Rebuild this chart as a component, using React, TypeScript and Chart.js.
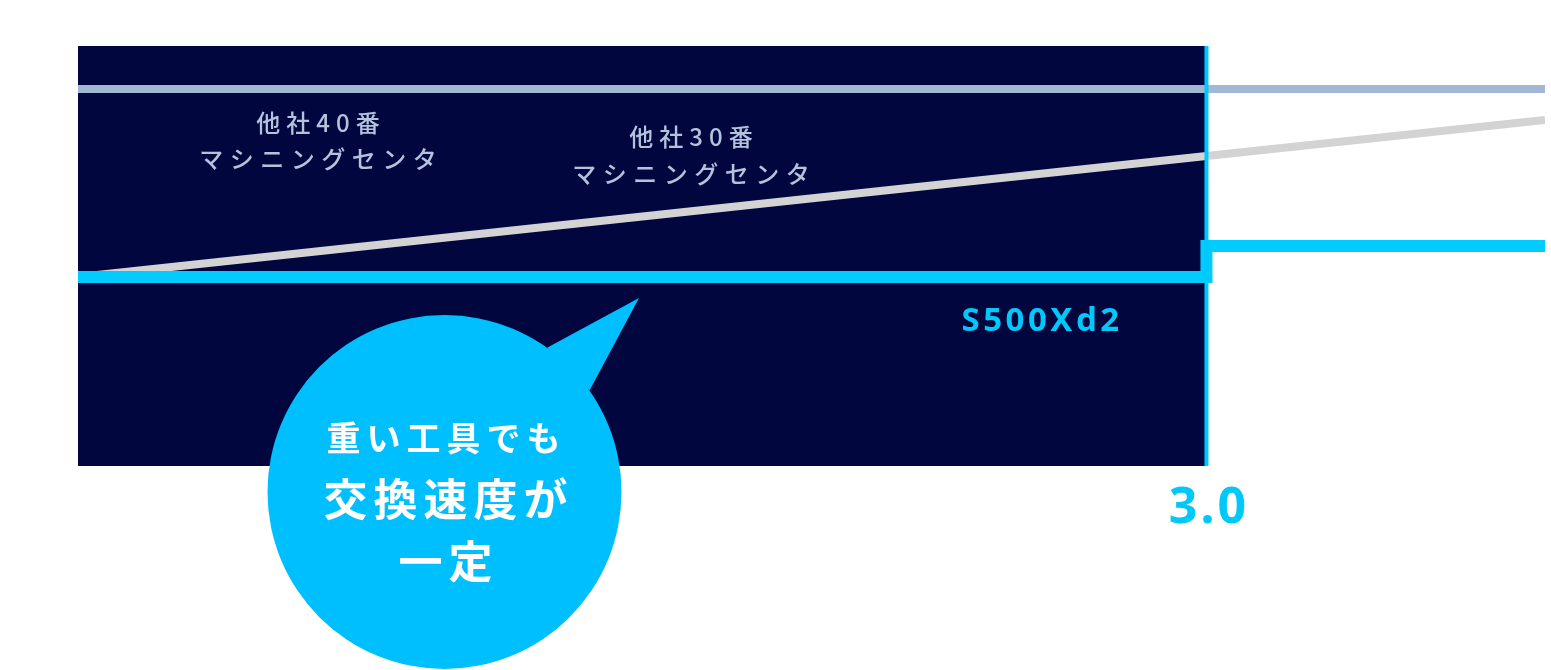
import React, { useRef, useEffect } from 'react';
import { Chart, registerables } from 'chart.js';

Chart.register(...registerables);

// horizontal axis stops (tool weight) shared by all three series
const xStops = [0, 3.0, 3.9];
// tool change time at those stops
const s500Xd2 = [1.89, 2.2, 2.2];
const competitor30 = [1.89, 3.1, 3.46];
const competitor40 = [3.77, 3.77, 3.77];
// the highlighted range ends at this x value, which is also the only tick shown
const panelEnd = 3.0;
const tickLabels = ['3.0'];
const seriesNames = ['S500Xd2', '他社30番\nマシニングセンタ', '他社40番\nマシニングセンタ'];
const calloutLines = ['重い工具でも', '交換速度が', '一定'];

const NAVY = '#01063f';
const CYAN = '#00ccff';
const BUBBLE = '#00bfff';
const LABEL = '#b4c3dc';
const CJK = '"Noto Sans CJK JP", "Noto Sans", sans-serif';
const LATIN = '"Noto Sans", sans-serif';

// centred text with canvas letterSpacing (spacing is added after every glyph)
const spacedText = (ctx: CanvasRenderingContext2D, text: string, x: number, y: number, spacing: number) => {
  (ctx as any).letterSpacing = `${spacing}px`;
  ctx.fillText(text, x + spacing / 2, y);
};

const overlayPlugin = {
  id: 'overlay',
  beforeDatasetsDraw(chart: any) {
    const { ctx, chartArea, scales } = chart;
    const right = scales.x.getPixelForValue(panelEnd);
    ctx.save();
    ctx.fillStyle = NAVY;
    ctx.fillRect(chartArea.left, chartArea.top, right - chartArea.left, chartArea.bottom - chartArea.top);
    ctx.restore();
  },
  afterDatasetsDraw(chart: any) {
    const { ctx, chartArea, scales } = chart;
    const { left, top, bottom } = chartArea;
    const right = scales.x.getPixelForValue(panelEnd);
    ctx.save();

    // marker line at the end of the panel
    ctx.strokeStyle = '#00c8ff';
    ctx.lineWidth = 4;
    ctx.beginPath();
    ctx.moveTo(right, top);
    ctx.lineTo(right, bottom);
    ctx.stroke();

    // series names inside the panel
    ctx.textAlign = 'center';
    ctx.textBaseline = 'middle';
    ctx.fillStyle = LABEL;
    ctx.font = `500 24px ${CJK}`;
    const [n40a, n40b] = seriesNames[2].split('\n');
    spacedText(ctx, n40a, left + 240, top + 77, 6);
    spacedText(ctx, n40b, left + 240, top + 113, 6.5);
    const [n30a, n30b] = seriesNames[1].split('\n');
    spacedText(ctx, n30a, left + 613, top + 91, 6);
    spacedText(ctx, n30b, left + 613, top + 128, 6.5);

    ctx.textAlign = 'left';
    ctx.textBaseline = 'alphabetic';
    ctx.fillStyle = '#00c8f8';
    ctx.font = `bold 33px ${LATIN}`;
    (ctx as any).letterSpacing = '3.5px';
    ctx.fillText(seriesNames[0], right - 245, bottom - 135);

    // tick label under the marker
    ctx.textAlign = 'center';
    ctx.font = `bold 50px ${LATIN}`;
    spacedText(ctx, tickLabels[0], right + 1, bottom + 57, 3);

    // speech bubble
    const cx = 444.5;
    const cy = 492;
    const r = 177;
    ctx.fillStyle = BUBBLE;
    ctx.beginPath();
    ctx.arc(cx, cy, r, 0, Math.PI * 2);
    ctx.fill();
    const a1 = (-54.6 * Math.PI) / 180;
    const a2 = (-35 * Math.PI) / 180;
    ctx.beginPath();
    ctx.moveTo(cx + r * Math.cos(a1), cy + r * Math.sin(a1));
    ctx.lineTo(639, 298);
    ctx.lineTo(cx + r * Math.cos(a2), cy + r * Math.sin(a2));
    ctx.closePath();
    ctx.fill();

    ctx.fillStyle = '#ffffff';
    ctx.textBaseline = 'middle';
    ctx.font = `bold 34px ${CJK}`;
    spacedText(ctx, calloutLines[0], cx - 1, 438, 6);
    ctx.font = `bold 44px ${CJK}`;
    spacedText(ctx, calloutLines[1], cx + 1, 499, 6);
    spacedText(ctx, calloutLines[2], cx + 1, 561, 6);

    ctx.restore();
  },
};

const SpeedChart: React.FC = () => {
  const chartRef = useRef<HTMLCanvasElement | null>(null);
  const chartInstance = useRef<Chart | null>(null);

  useEffect(() => {
    if (!chartRef.current) return;
    const ctx = chartRef.current.getContext('2d');
    if (!ctx) return;
    if (chartInstance.current) chartInstance.current.destroy();

    const toPoints = (values: number[]) => xStops.map((x, i) => ({ x, y: values[i] }));

    chartInstance.current = new Chart(ctx, {
      type: 'line',
      data: {
        datasets: [
          {
            label: seriesNames[0],
            data: toPoints(s500Xd2),
            borderColor: CYAN,
            borderWidth: 12,
            stepped: 'before',
            pointRadius: 0,
          },
          {
            label: seriesNames[1],
            data: toPoints(competitor30),
            borderColor: '#d3d3d3',
            borderWidth: 8,
            pointRadius: 0,
          },
          {
            label: seriesNames[2],
            data: toPoints(competitor40),
            borderColor: '#a2b7d3',
            borderWidth: 8,
            pointRadius: 0,
          },
        ],
      },
      options: {
        animation: false,
        responsive: true,
        maintainAspectRatio: false,
        layout: { padding: { left: 78, top: 46, right: 6, bottom: 204 } },
        scales: {
          x: { type: 'linear', min: 0, max: 3.9, display: false },
          y: { min: 0, max: 4.2, display: false },
        },
        plugins: {
          legend: { display: false },
          tooltip: { enabled: false },
        },
      },
      plugins: [overlayPlugin],
    });

    return () => {
      if (chartInstance.current) {
        chartInstance.current.destroy();
        chartInstance.current = null;
      }
    };
  }, []);

  return (
    <div style={{ position: 'absolute', left: 0, top: 0, width: 1551, height: 670, background: '#ffffff' }}>
      <canvas ref={chartRef}></canvas>
    </div>
  );
};

export default function App() {
  return <SpeedChart />;
}
